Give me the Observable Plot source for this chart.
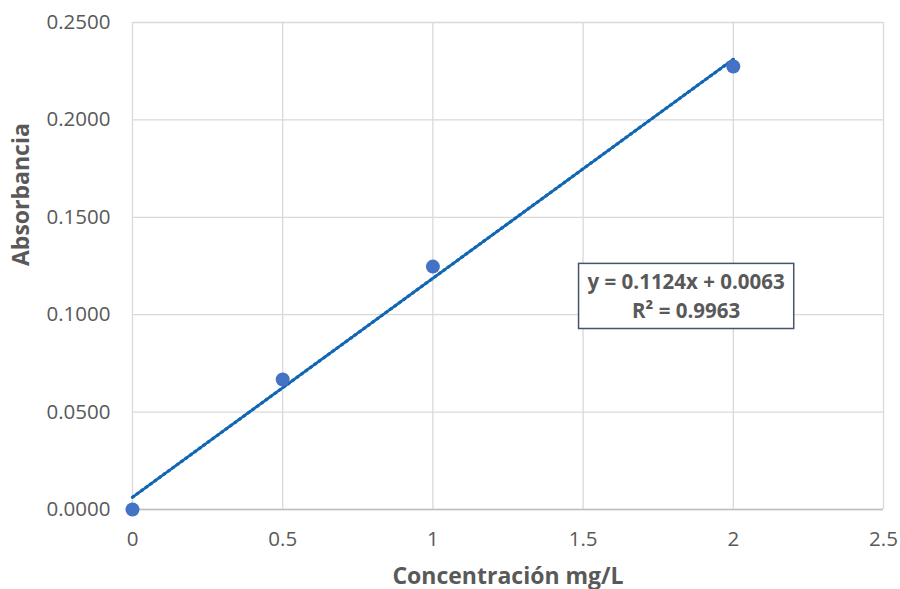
<!DOCTYPE html>
<html>
<head>
<meta charset="utf-8">
<script src="https://cdn.jsdelivr.net/npm/d3@7"></script>
<script src="https://cdn.jsdelivr.net/npm/@observablehq/plot@0.6"></script>
<style>
  html, body { margin: 0; padding: 0; background: #fff; }
  #chart svg { display: block; }
</style>
</head>
<body>
<div id="chart"></div>
<script>
// Calibration standards: concentration (mg/L) vs absorbance
const concentration = [0, 0.5, 1, 2];
const absorbance = [0.0000, 0.0667, 0.1247, 0.2274];

// Linear fit as reported on the chart
const slope = 0.1124;
const intercept = 0.0063;
const rSquared = 0.9963;

const xTicks = [0, 0.5, 1, 1.5, 2, 2.5];
const yTicks = [0, 0.05, 0.10, 0.15, 0.20, 0.25];

const points = concentration.map((c, i) => ({x: c, y: absorbance[i]}));
const fitLine = [0, 2].map(x => ({x, y: slope * x + intercept}));

const eqText = `y = ${slope.toFixed(4)}x + ${intercept.toFixed(4)}\nR² = ${rSquared.toFixed(4)}`;
// where the equation box sits, in data units
const labelAt = {x: 1.843, y: 0.1103};

const font = "'Open Sans', sans-serif";
const textColor = "#595959";

const chart = Plot.plot({
  width: 900,
  height: 589,
  marginLeft: 132,
  marginRight: 17,
  marginTop: 22,
  marginBottom: 80,
  style: {fontFamily: font, color: textColor, background: "#fff"},
  x: {domain: [0, 2.5], ticks: xTicks, label: null},
  y: {domain: [0, 0.25], ticks: yTicks, label: null},
  marks: [
    Plot.gridX(xTicks, {stroke: "#d9d9d9", strokeOpacity: 1, strokeWidth: 1.3}),
    Plot.gridY(yTicks, {stroke: "#d9d9d9", strokeOpacity: 1, strokeWidth: 1.3}),
    Plot.ruleY([0], {stroke: "#bfbfbf", strokeWidth: 1.5}),
    Plot.axisX(xTicks, {tickSize: 0, tickPadding: 22, fontSize: 20.5, fill: textColor, tickFormat: d => String(d), label: null}),
    Plot.axisY(yTicks, {tickSize: 0, tickPadding: 22, fontSize: 20.5, fill: textColor, tickFormat: d => d.toFixed(4), label: null}),
    Plot.line(fitLine, {x: "x", y: "y", stroke: "#0070C0", strokeWidth: 2.6}),
    Plot.line(fitLine, {x: "x", y: "y", stroke: "#1565b0", strokeWidth: 3.2, strokeDasharray: "1.5 4", strokeLinecap: "round"}),
    Plot.dot(points, {x: "x", y: "y", r: 7, fill: "#4472C4", stroke: "none"}),
    Plot.text([labelAt], {
      x: "x", y: "y", text: () => eqText, fontSize: 20.5, fontWeight: "bold",
      fill: textColor, lineHeight: 1.42, textAnchor: "middle",
      className: "eq-label"
    }),
    Plot.text(["Concentración mg/L"], {frameAnchor: "bottom", dy: 74, fontSize: 23, fontWeight: "bold", fill: textColor}),
    Plot.text(["Absorbancia"], {frameAnchor: "left", dx: -111, rotate: -90, fontSize: 23, fontWeight: "bold", fill: textColor})
  ]
});

document.getElementById("chart").appendChild(chart);

// Frame around the equation, sized to the laid-out text
d3.select(chart).selectAll("g.eq-label text").each(function() {
  const bb = this.getBBox();
  const padX = 9, padY = 4;
  d3.select(this.parentNode).insert("rect", () => this)
    .attr("transform", this.getAttribute("transform"))
    .attr("x", bb.x - padX).attr("y", bb.y - padY)
    .attr("width", bb.width + 2 * padX).attr("height", bb.height + 2 * padY)
    .attr("fill", "#fff").attr("stroke", "#44546A").attr("stroke-width", 1.5);
});
</script>
</body>
</html>
